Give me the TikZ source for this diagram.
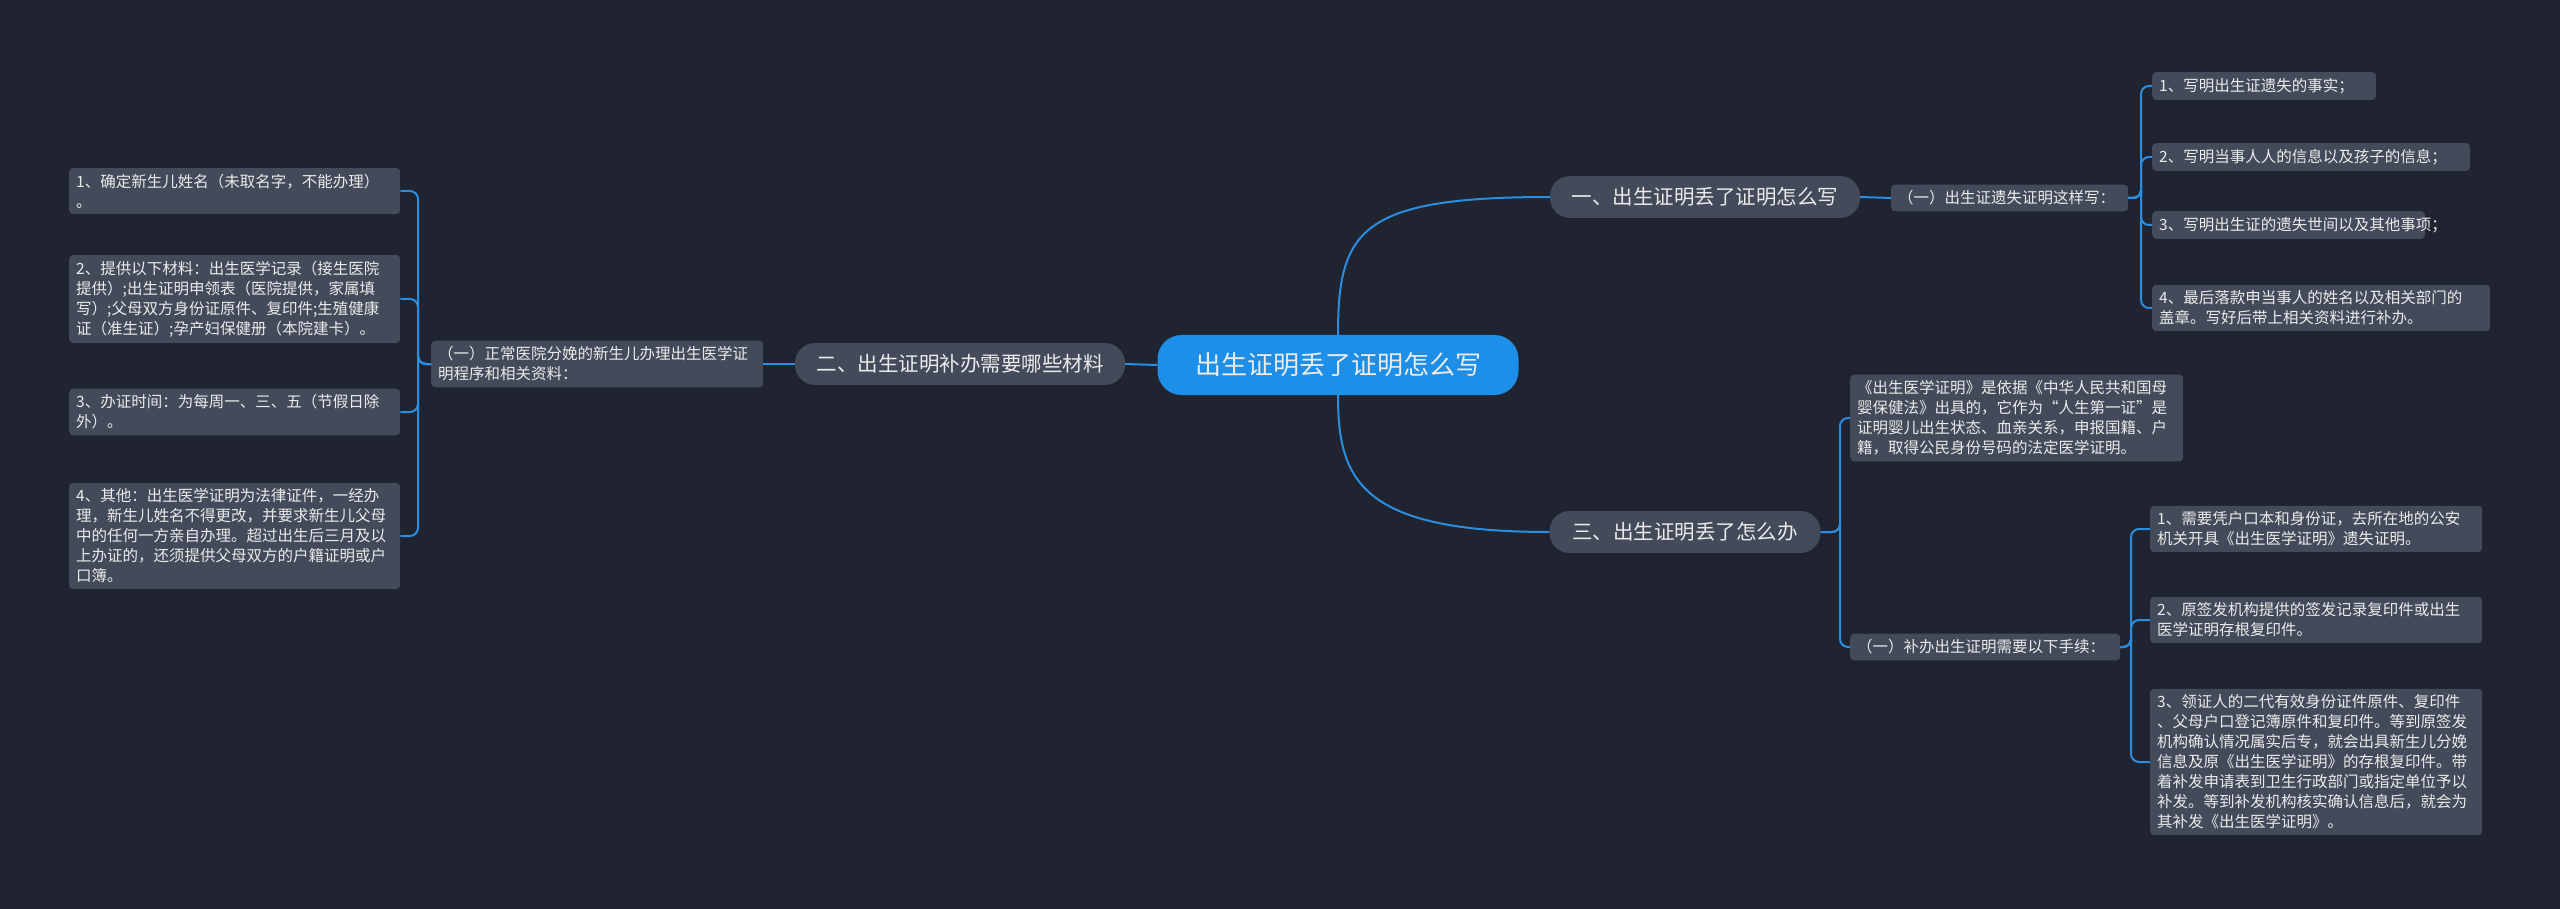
\documentclass[tikz,border=0pt]{standalone}
\usepackage{fontspec}
\setmainfont{Noto Sans CJK SC}
\begin{document}
\begin{tikzpicture}[x=1pt,y=1pt,
  every node/.style={text=white!92!black},
  leaf/.style={fill=nodegray,rounded corners=4pt,anchor=west,align=left,inner xsep=7pt,inner ysep=6pt,font=\fontsize{15.5}{20}\selectfont},
  branch/.style={fill=nodegray,rounded corners=20pt,inner xsep=16pt,minimum height=42pt,font=\fontsize{20.5}{24}\selectfont},
  link/.style={draw=linkblue,line width=2pt},
  brk/.style={link,rounded corners=8pt}]
\definecolor{bg}{HTML}{1F2430}
\definecolor{nodegray}{HTML}{434A5A}
\definecolor{rootblue}{HTML}{1D8FE8}
\definecolor{linkblue}{HTML}{2B8DE0}
\useasboundingbox[fill=bg] (0,0) rectangle (2560,-909);
% root
\node[fill=rootblue,rounded corners=24pt,minimum width=361pt,minimum height=60pt,font=\fontsize{26}{30}\selectfont] (root) at (1338,-365) {出生证明丢了证明怎么写};
% branches
\node[branch,minimum width=310pt] (b1) at (1705,-197) {一、出生证明丢了证明怎么写};
\node[branch,minimum width=271pt] (b3) at (1685,-532) {三、出生证明丢了怎么办};
\node[branch,minimum width=330pt] (b2) at (960,-364) {二、出生证明补办需要哪些材料};
% branch 1
\node[leaf,text width=223pt] (s1) at (1891,-198) {（一）出生证遗失证明这样写：};
\node[leaf,text width=210pt] (r1) at (2152,-86) {1、写明出生证遗失的事实；};
\node[leaf,text width=304pt] (r2) at (2152,-157) {2、写明当事人人的信息以及孩子的信息；};
\node[leaf,text width=259pt] (r3) at (2152,-225) {3、写明出生证的遗失世间以及其他事项；};
\node[leaf,text width=324pt] (r4) at (2152,-308) {4、最后落款申当事人的姓名以及相关部门的\\盖章。写好后带上相关资料进行补办。};
% branch 3
\node[leaf,text width=319pt] (m1) at (1850,-418) {《出生医学证明》是依据《中华人民共和国母\\婴保健法》出具的，它作为“人生第一证”是\\证明婴儿出生状态、血亲关系，申报国籍、户\\籍，取得公民身份号码的法定医学证明。};
\node[leaf,text width=256pt] (s3) at (1850,-647) {（一）补办出生证明需要以下手续：};
\node[leaf,text width=318pt] (t1) at (2150,-529) {1、需要凭户口本和身份证，去所在地的公安\\机关开具《出生医学证明》遗失证明。};
\node[leaf,text width=318pt] (t2) at (2150,-620) {2、原签发机构提供的签发记录复印件或出生\\医学证明存根复印件。};
\node[leaf,text width=318pt] (t3) at (2150,-762) {3、领证人的二代有效身份证件原件、复印件\\、父母户口登记簿原件和复印件。等到原签发\\机构确认情况属实后专，就会出具新生儿分娩\\信息及原《出生医学证明》的存根复印件。带\\着补发申请表到卫生行政部门或指定单位予以\\补发。等到补发机构核实确认信息后，就会为\\其补发《出生医学证明》。};
% branch 2
\node[leaf,text width=318pt] (s2) at (431,-364) {（一）正常医院分娩的新生儿办理出生医学证\\明程序和相关资料：};
\node[leaf,text width=317pt] (l1) at (69,-191) {1、确定新生儿姓名（未取名字，不能办理）\\。};
\node[leaf,text width=317pt] (l2) at (69,-299) {2、提供以下材料：出生医学记录（接生医院\\提供）;出生证明申领表（医院提供，家属填\\写）;父母双方身份证原件、复印件;生殖健康\\证（准生证）;孕产妇保健册（本院建卡）。};
\node[leaf,text width=317pt] (l3) at (69,-412) {3、办证时间：为每周一、三、五（节假日除\\外）。};
\node[leaf,text width=317pt] (l4) at (69,-536) {4、其他：出生医学证明为法律证件，一经办\\理，新生儿姓名不得更改，并要求新生儿父母\\中的任何一方亲自办理。超过出生后三月及以\\上办证的，还须提供父母双方的户籍证明或户\\口簿。};
% connectors
\draw[link] (root.north) ++(0,0) .. controls (1338,-230) and (1360,-197) .. (b1.west);
\draw[link] (root.south) .. controls (1338,-480) and (1360,-532) .. (b3.west);
\draw[link] (root.west) -- (b2.east);
\draw[link] (b2.west) -- (s2.east);
\foreach \l in {l1,l2,l3,l4}
  \draw[brk] (s2.west) -| (418,-364) |- (\l.east);
\draw[link] (b1.east) -- (s1.west);
\foreach \r in {r1,r2,r3,r4}
  \draw[brk] (s1.east) -| (2141,-198) |- (\r.west);
\foreach \m in {m1,s3}
  \draw[brk] (b3.east) -| (1840,-532) |- (\m.west);
\foreach \t in {t1,t2,t3}
  \draw[brk] (s3.east) -| (2131,-647) |- (\t.west);
\end{tikzpicture}
\end{document}
